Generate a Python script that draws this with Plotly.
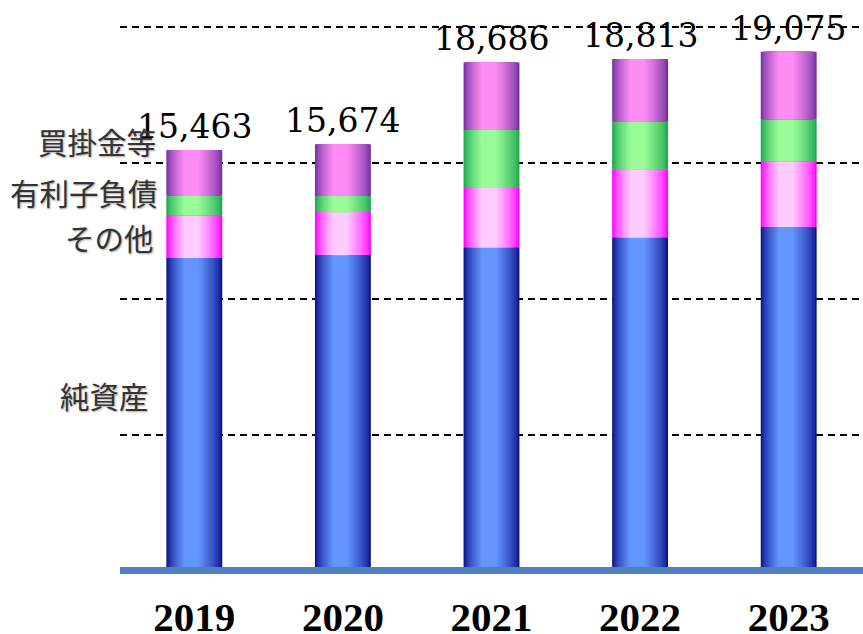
import plotly.graph_objects as go

# ---- data ----
years = ["2019", "2020", "2021", "2022", "2023"]
net_assets = [11500, 11600, 11893, 12261, 12629]   # 純資産
other = [1570, 1581, 2180, 2489, 2426]             # その他
debt = [710, 588, 2132, 1750, 1544]                # 有利子負債
payables = [1683, 1905, 2481, 2313, 2476]          # 買掛金等
totals = [15463, 15674, 18686, 18813, 19075]
series_names = ["純資産", "その他", "有利子負債", "買掛金等"]
grid_vals = [5000, 10000, 15000, 20000]

# ---- styling ----
edge_colors = [(12, 18, 138), (255, 0, 255), (28, 168, 80), (112, 50, 162)]
center_colors = [(100, 150, 255), (255, 204, 255), (152, 252, 152), (255, 140, 245)]
BAR_W = 0.376
N_LAYERS = 16

fig = go.Figure()

series = [net_assets, other, debt, payables]
bases = [0] * len(years)
for vals, ec, cc, name in zip(series, edge_colors, center_colors, series_names):
    for k in range(N_LAYERS):
        frac = k / (N_LAYERS - 1)
        w = BAR_W * (1 - 0.74 * frac)
        shift = -0.05 * BAR_W * frac
        b = frac ** 0.7
        col = "rgb({},{},{})".format(*[round(e + (c - e) * b) for e, c in zip(ec, cc)])
        fig.add_trace(go.Bar(
            x=years, y=vals, base=list(bases), name=name,
            width=w, offset=-w / 2 + shift,
            marker=dict(color=col, line=dict(width=0)),
            showlegend=False, hoverinfo="skip",
        ))
    bases = [bb + v for bb, v in zip(bases, vals)]

# total labels
for i, t in enumerate(totals):
    fig.add_annotation(
        x=i, y=t, xref="x", yref="y", text=f"{t:,}", showarrow=False,
        yanchor="bottom", yshift=2,
        font=dict(family="DejaVu Serif", size=33, color="#000000"),
    )

# left-side labels
label_specs = [("買掛金等", 0.0511, 0.7552), ("有利子負債", 0.0538, 0.6667),
               ("その他", 0.0485, 0.5885), ("純資産", 0.0417, 0.3142)]
for txt, px, py in label_specs:
    fig.add_annotation(
        x=px, y=py, xref="paper", yref="paper", text=txt, showarrow=False,
        xanchor="right", yanchor="middle",
        font=dict(family="Noto Sans CJK JP", size=29.5, color="#333333",
                  shadow="1px 1px 2px rgba(0,0,0,0.35)"),
    )

# baseline (axis line at zero)
fig.add_hline(y=0, line=dict(color="#4F81BD", width=7), layer="above")

fig.update_layout(
    width=863, height=634,
    margin=dict(l=120, r=0, t=0, b=58, autoexpand=False),
    paper_bgcolor="white", plot_bgcolor="white",
    barmode="overlay",
    xaxis=dict(
        type="category", range=[-0.5, len(years) - 0.5], automargin=False,
        showgrid=False, zeroline=False, showline=False, ticks="",
        tickfont=dict(family="Liberation Serif", size=41, color="#000000", weight="bold"),
        ticklabelstandoff=13,
    ),
    yaxis=dict(
        range=[-202, 20982], tickvals=grid_vals, showticklabels=False, automargin=False,
        showgrid=True, gridcolor="#000000", gridwidth=2, griddash="7px,5px",
        zeroline=False, showline=False,
    ),
)

fig.write_html("out.html", config={"displayModeBar": False},
               post_script="document.body.style.margin='0px';")
